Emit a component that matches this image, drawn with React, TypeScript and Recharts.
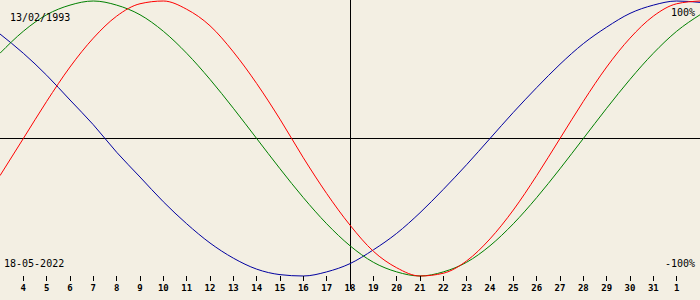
import React from 'react';
import { LineChart, Line, XAxis, YAxis, ReferenceLine } from 'recharts';

// days shown (May 3 .. June 2, June days counted on from 31)
const DAYS = [3, 4, 5, 6, 7, 8, 9, 10, 11, 12, 13, 14, 15, 16, 17, 18, 19, 20, 21, 22, 23, 24, 25, 26, 27, 28, 29, 30, 31, 32, 33];

// physical (red)
const PHYSICAL = [-0.27, 0, 0.27, 0.52, 0.73, 0.89, 0.98, 1.0, 0.94, 0.82, 0.63, 0.4, 0.14, -0.14, -0.4, -0.63, -0.82, -0.94, -1.0, -0.98, -0.89, -0.73, -0.52, -0.27, 0, 0.27, 0.52, 0.73, 0.89, 0.98, 1.0];
// emotional (green)
const EMOTIONAL = [0.62, 0.78, 0.9, 0.97, 1.0, 0.97, 0.9, 0.78, 0.62, 0.43, 0.22, 0, -0.22, -0.43, -0.62, -0.78, -0.9, -0.97, -1.0, -0.97, -0.9, -0.78, -0.62, -0.43, -0.22, 0, 0.22, 0.43, 0.62, 0.78, 0.9];
// intellectual (blue)
const INTELLECTUAL = [0.76, 0.62, 0.46, 0.28, 0.1, -0.1, -0.28, -0.46, -0.62, -0.76, -0.87, -0.95, -0.99, -1.0, -0.97, -0.91, -0.81, -0.69, -0.54, -0.37, -0.19, 0, 0.19, 0.37, 0.54, 0.69, 0.81, 0.91, 0.97, 1.0, 0.99];

const TICKS = [4, 5, 6, 7, 8, 9, 10, 11, 12, 13, 14, 15, 16, 17, 18, 19, 20, 21, 22, 23, 24, 25, 26, 27, 28, 29, 30, 31, 32];
const TICK_LABELS = ['4', '5', '6', '7', '8', '9', '10', '11', '12', '13', '14', '15', '16', '17', '18', '19', '20', '21', '22', '23', '24', '25', '26', '27', '28', '29', '30', '31', '1'];

const TODAY = 18;
const BIRTH_LABEL = '13/02/1993';
const DATE_LABEL = '18-05-2022';

const data = DAYS.map((day, i) => ({
  day,
  physical: PHYSICAL[i],
  emotional: EMOTIONAL[i],
  intellectual: INTELLECTUAL[i],
}));

const FONT = '"DejaVu Sans Mono", monospace';

const App: React.FC = () => {
  return (
    <div style={{ position: 'absolute', left: 0, top: 0, width: 700, height: 300, background: '#f3efe3' }}>
      <LineChart width={700} height={300} data={data} margin={{ top: 1, right: 0, bottom: 0, left: 0 }}>
        <XAxis
          type="number"
          dataKey="day"
          domain={[3, 33]}
          ticks={TICKS}
          interval={0}
          height={24}
          axisLine={false}
          tickLine={{ stroke: '#000', shapeRendering: 'crispEdges' }}
          tickSize={5}
          tickMargin={4}
          tick={{ fill: '#000', fontSize: 9, fontFamily: FONT, fontWeight: 'bold' }}
          tickFormatter={(v: number) => TICK_LABELS[TICKS.indexOf(v)] ?? ''}
        />
        <YAxis hide domain={[-1, 1]} />
        <ReferenceLine y={0} stroke="#000" strokeWidth={1} shapeRendering="crispEdges" />
        <ReferenceLine
          segment={[{ x: TODAY, y: 1.01 }, { x: TODAY, y: -1.095 }]}
          ifOverflow="visible"
          stroke="#000"
          strokeWidth={1}
          shapeRendering="crispEdges"
        />
        <Line type="monotone" dataKey="intellectual" stroke="#0000a0" strokeWidth={1} dot={false} isAnimationActive={false} />
        <Line type="monotone" dataKey="emotional" stroke="#008000" strokeWidth={1} dot={false} isAnimationActive={false} />
        <Line type="monotone" dataKey="physical" stroke="#ff0000" strokeWidth={1} dot={false} isAnimationActive={false} />
      </LineChart>
      <svg width={700} height={300} style={{ position: 'absolute', left: 0, top: 0, pointerEvents: 'none' }}>
        <g fontFamily={FONT} fontSize={10} fill="#000">
          <text x={10} y={21}>{BIRTH_LABEL}</text>
          <text x={4} y={267}>{DATE_LABEL}</text>
          <text x={695} y={16} textAnchor="end">100%</text>
          <text x={695} y={267} textAnchor="end">-100%</text>
        </g>
      </svg>
    </div>
  );
};

export default App;
